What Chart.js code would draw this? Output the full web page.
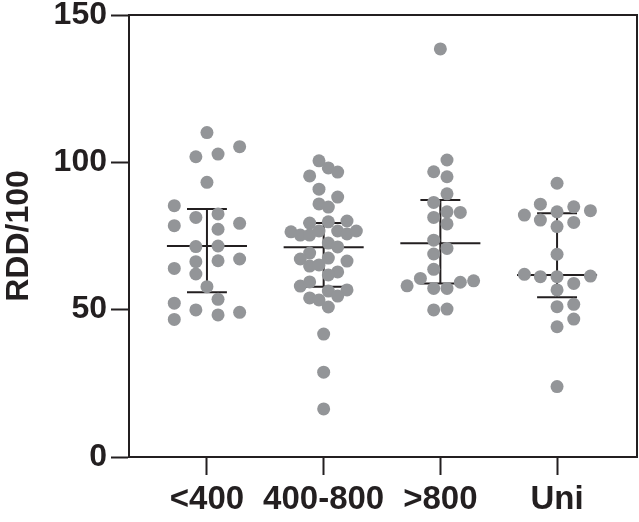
<!DOCTYPE html>
<html>
<head>
<meta charset="utf-8">
<script src="https://cdn.jsdelivr.net/npm/chart.js@4.4.0/dist/chart.umd.min.js"></script>
<style>
  html, body { margin: 0; padding: 0; background: #fff; }
</style>
</head>
<body>
<canvas id="rddChart" width="639" height="522"></canvas>
<script>
const categories = ['<400', '400-800', '>800', 'Uni'];
const yTicks = [0, 50, 100, 150];

// RDD/100 per group, jitter = horizontal offset in category units
const under400 = [110.1, 105.3, 101.9, 102.8, 93.2, 85.3, 81.3, 82.5, 78.5, 79.3, 77.3, 71.4, 71.6,
    66.3, 66.6, 67.2, 64.0, 62.1, 57.8, 53.5, 52.2, 49.9, 48.2, 49.1, 46.7];
const under400Jitter = [0, 0.28, -0.095, 0.095, 0, -0.28, -0.095, 0.095, -0.28, 0.28, 0.095, -0.095, 0.095,
    -0.095, 0.095, 0.28, -0.28, -0.095, 0, 0.095, -0.28, -0.095, 0.095, 0.28, -0.28];

const mid400to800 = [100.5, 98.1, 96.7, 95.4, 90.9, 88.2, 85.9, 84.8, 79.4, 79.8, 80.1,
    76.4, 75.3, 75.3, 76.7, 76.7, 75.7, 76.7, 72.6, 71.3,
    69.2, 67.2, 67.5, 66.5, 64.8, 65.2, 62.8, 61.8,
    58.0, 59.4, 56.3, 56.7, 54.0, 53.3, 54.6, 50.9, 41.7, 28.8, 16.3];
const mid400to800Jitter = [-0.04, 0.04, 0.12, -0.12, -0.04, 0.12, -0.04, 0.04, -0.12, 0.04, 0.2,
    -0.28, -0.2, -0.12, -0.04, 0.12, 0.2, 0.28, 0.04, 0.12,
    -0.12, -0.2, 0.04, 0.2, -0.12, -0.04, 0.12, 0.04,
    -0.2, -0.12, 0.04, 0.2, -0.12, -0.04, 0.12, 0.04, 0, 0, 0];

const over800 = [138.5, 100.8, 96.8, 95.1, 89.3, 86.4, 83.2, 83.0, 81.3, 79.1, 73.6, 70.8, 68.9,
    63.7, 60.6, 58.1, 57.2, 57.2, 59.3, 59.8, 49.9, 50.2];
const over800Jitter = [0, 0.057, -0.057, 0.057, 0.057, -0.057, 0.057, 0.171, -0.057, 0.057, -0.057, 0.057, -0.057,
    -0.057, -0.171, -0.285, -0.057, 0.057, 0.171, 0.285, -0.057, 0.057];

const uni = [92.9, 85.8, 84.9, 82.1, 83.2, 83.6, 80.4, 79.6, 78.2, 68.8, 62.0, 61.2, 61.2,
    61.4, 58.9, 56.7, 51.0, 51.8, 46.8, 44.2, 23.9];
const uniJitter = [0, -0.143, 0.143, -0.28, 0, 0.286, -0.143, 0.143, 0, 0, -0.28, -0.143, 0,
    0.286, 0.143, 0, 0, 0.143, 0.143, 0, 0];

// median and interquartile range per group
const medians = [71.6, 71.2, 72.5, 61.8];
const q1 = [55.9, 57.8, 58.9, 54.2];
const q3 = [84.2, 79.4, 87.2, 82.7];

const ink = '#231f20';
const dotColor = '#939598';
const fontFamily = "'Liberation Sans', Arial, sans-serif";
const labelFont = { family: fontFamily, size: 32, weight: 'bold' };
const catFont = { family: fontFamily, size: 33, weight: 'bold' };

const groups = [
    [under400, under400Jitter],
    [mid400to800, mid400to800Jitter],
    [over800, over800Jitter],
    [uni, uniJitter]
];

function buildDatasets() {
    const sets = [];
    const points = [];
    groups.forEach(([vals, jit], i) => {
        vals.forEach((v, j) => points.push({ x: i + 1 + jit[j], y: v }));
    });
    sets.push({
        data: points,
        pointRadius: 6.5,
        pointBackgroundColor: dotColor,
        pointBorderWidth: 0,
        showLine: false,
        order: 0
    });

    const seg = (a, b) => ({
        data: [a, b],
        showLine: true,
        borderColor: ink,
        borderWidth: 2,
        pointRadius: 0,
        order: 1
    });
    medians.forEach((m, i) => {
        const c = i + 1;
        sets.push(seg({ x: c - 0.343, y: m }, { x: c + 0.343, y: m }));
        sets.push(seg({ x: c - 0.171, y: q3[i] }, { x: c + 0.171, y: q3[i] }));
        sets.push(seg({ x: c - 0.171, y: q1[i] }, { x: c + 0.171, y: q1[i] }));
        sets.push(seg({ x: c, y: q1[i] }, { x: c, y: q3[i] }));
    });
    return sets;
}

// top and right edges of the plot box
const frame = {
    id: 'frame',
    afterDraw(chart) {
        const { ctx, chartArea: a } = chart;
        ctx.save();
        ctx.strokeStyle = ink;
        ctx.lineWidth = 2;
        ctx.beginPath();
        ctx.moveTo(a.left, a.top);
        ctx.lineTo(a.right, a.top);
        ctx.lineTo(a.right, a.bottom);
        ctx.stroke();
        ctx.restore();
    }
};

function initChart() {
    const ctx = document.getElementById('rddChart').getContext('2d');
    new Chart(ctx, {
        type: 'scatter',
        data: { datasets: buildDatasets() },
        options: {
            responsive: false,
            animation: false,
            layout: { autoPadding: false, padding: { left: 0, right: 2, top: 15, bottom: 0 } },
            plugins: { legend: { display: false }, tooltip: { enabled: false } },
            scales: {
                x: {
                    type: 'linear',
                    min: 0.332,
                    max: 4.685,
                    afterBuildTicks: s => { s.ticks = categories.map((c, i) => ({ value: i + 1 })); },
                    ticks: {
                        callback: (v, i) => categories[i],
                        color: ink,
                        font: catFont,
                        padding: 5,
                        maxRotation: 0,
                        autoSkip: false
                    },
                    grid: { drawOnChartArea: false, drawTicks: true, tickLength: 18, tickColor: ink, tickWidth: 2 },
                    border: { color: ink, width: 2 },
                    afterFit: s => { s.height = 65; s.paddingLeft = 0; s.paddingRight = 0; }
                },
                y: {
                    min: 0,
                    max: 150,
                    afterBuildTicks: s => { s.ticks = yTicks.map(v => ({ value: v })); },
                    ticks: { color: ink, font: labelFont, padding: 4 },
                    grid: { drawOnChartArea: false, drawTicks: true, tickLength: 18, tickColor: ink, tickWidth: 2 },
                    border: { color: ink, width: 2 },
                    title: { display: true, text: 'RDD/100', color: ink, font: labelFont, padding: 0 },
                    afterFit: s => { s.width = 129; s.paddingTop = 0; s.paddingBottom = 0; }
                }
            }
        },
        plugins: [frame]
    });
}

window.onload = initChart;
</script>
</body>
</html>
